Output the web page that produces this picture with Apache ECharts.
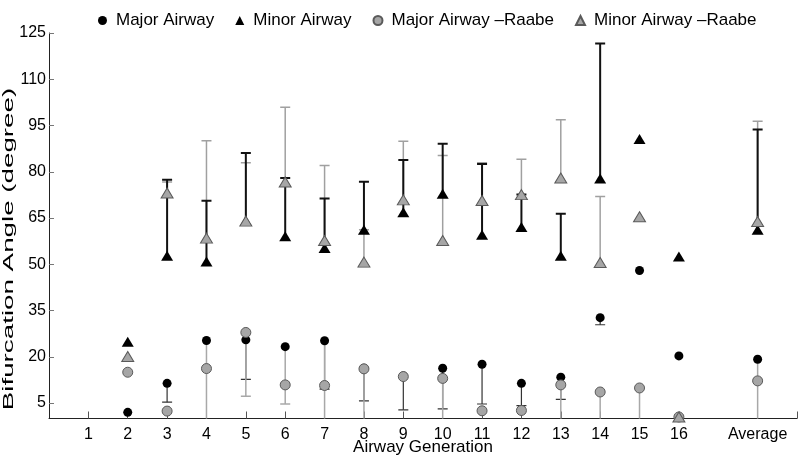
<!DOCTYPE html>
<html><head><meta charset="utf-8">
<script src="https://cdn.jsdelivr.net/npm/echarts@6/dist/echarts.min.js"></script>
<style>html,body{margin:0;padding:0;background:#fff}#c{width:800px;height:457px}</style>
</head><body><div id="c"></div>
<script>
// ---- data ----
const generations = ['1','2','3','4','5','6','7','8','9','10','11','12','13','14','15','16','Average'];
const genPos = [1,2,3,4,5,6,7,8,9,10,11,12,13,14,15,16,18];
const yTicks = [5,20,35,50,65,80,95,110,125];

const majorAirway      = [null, 2.0, 11.4, 25.3, 25.5, 23.3, 25.2, 16.3, 13.8, 16.3, 17.6, 11.4, 13.4, 32.7, 48.0, 20.3, 19.2];
const majorAirwayLow   = [null, null, 5.3, null, 12.7, null, 9.5, 5.7, 2.8, 3.1, 4.7, 4.2, 6.2, 30.4, null, null, null];

const minorAirway      = [null, 24.9, 52.8, 50.9, 64.0, 59.1, 55.3, 61.2, 66.9, 72.9, 59.6, 62.1, 52.8, 77.8, 90.6, 52.5, 61.2];
const minorAirwayHigh  = [null, null, 77.4, 70.6, 86.1, 78.0, 71.3, 76.8, 83.8, 89.1, 82.5, 72.6, 66.4, 121.6, null, null, 93.7];

const majorRaabe       = [null, 15.0, 2.4, 16.2, 27.9, 10.9, 10.7, 16.1, 13.6, 13.0, 2.5, 2.6, 10.9, 8.6, 9.9, 0.5, 12.2];
const majorRaabeLow    = [null, null, null, -2, 7.2, 4.7, -2, -2, null, -2, null, null, -2, -2, -2, null, -2];
const majorRaabeHigh   = [null, null, null, 25.3, null, 23.3, 25.2, null, null, null, null, null, null, null, null, null, 19.2];

const minorRaabe       = [null, 20.1, 73.1, 58.5, 64.0, 76.7, 57.7, 50.7, 70.9, 57.7, 70.7, 72.6, 78.0, 50.6, 65.4, 0.5, 63.9];
const minorRaabeHigh   = [null, null, 76.7, 90.1, 82.9, 100.9, 82.0, 61.2, 89.9, 85.3, 82.9, 84.1, 96.9, 72.0, null, null, 96.4];

const seriesNames = ['Major Airway', 'Minor Airway', 'Major Airway \u2013Raabe', 'Minor Airway \u2013Raabe'];

// ---- helpers ----
function points(vals) {
  const out = [];
  vals.forEach((v, i) => { if (v !== null) out.push([genPos[i], v]); });
  return out;
}
function bars(vals, ends) {
  const out = [];
  vals.forEach((v, i) => { if (v !== null && ends[i] !== null) out.push([genPos[i], v, ends[i]]); });
  return out;
}
function errSeries(data, color, width, cap, z) {
  return {
    type: 'custom', data: data, clip: true, z: z, silent: true,
    renderItem: function (params, api) {
      const x = api.value(0), a = api.value(1), b = api.value(2);
      const p0 = api.coord([x, a]), p1 = api.coord([x, b]);
      const ch = [{ type: 'line', shape: { x1: p0[0], y1: p0[1], x2: p1[0], y2: p1[1] }, style: { stroke: color, lineWidth: width } }];
      if (cap) ch.push({ type: 'line', shape: { x1: p1[0] - cap, y1: p1[1], x2: p1[0] + cap, y2: p1[1] }, style: { stroke: color, lineWidth: width } });
      return { type: 'group', children: ch };
    }
  };
}
const grayFill = '#a6a6a6', grayEdge = '#5a5a5a';

const chart = echarts.init(document.getElementById('c'), null, { renderer: 'canvas' });
chart.setOption({
  animation: false,
  backgroundColor: '#fff',
  textStyle: { fontFamily: 'Liberation Sans' },
  grid: { left: 49, right: 3, top: 33, bottom: 38.5, outerBoundsMode: 'none', containLabel: false },
  legend: {
    data: seriesNames,
    left: 93, top: 7,
    itemWidth: 9, itemHeight: 9, itemGap: 21,
    textStyle: { fontSize: 17, color: '#000', fontFamily: 'Liberation Sans', padding: [0, 0, 0, 4] }
  },
  xAxis: {
    type: 'value', min: 0, max: 19,
    name: 'Airway Generation', nameLocation: 'middle', nameGap: 20, nameMoveOverlap: false,
    nameTextStyle: { fontSize: 17, color: '#000' },
    axisLine: { show: true, lineStyle: { color: '#222', width: 1 } },
    axisTick: { show: true, inside: true, length: 7, lineStyle: { color: '#555' }, customValues: genPos.concat([19]) },
    axisLabel: { fontSize: 16, color: '#000', margin: 8, customValues: genPos,
      formatter: function (v) { const i = genPos.indexOf(v); return i >= 0 ? generations[i] : ''; } },
    splitLine: { show: false }
  },
  yAxis: {
    type: 'value', min: 0, max: 125,
    axisLine: { show: true, lineStyle: { color: '#222', width: 1 } },
    axisTick: { show: true, inside: true, length: 5, lineStyle: { color: '#777' }, customValues: yTicks },
    axisLabel: { fontSize: 16, color: '#000', margin: 3, customValues: yTicks },
    splitLine: { show: false }
  },
  graphic: [{
    type: 'text', x: 9, y: 249, rotation: Math.PI / 2, scaleX: 1.85, z: 10,
    style: { text: 'Bifurcation Angle (degree)', font: '15px "Liberation Sans"', fill: '#000', textAlign: 'center', textVerticalAlign: 'middle' }
  }],
  series: [
    errSeries(bars(majorAirway, majorAirwayLow), '#333', 1.2, 5, 1),
    errSeries(bars(majorRaabe, majorRaabeLow), '#a8a8a8', 1.5, 5, 2),
    errSeries(bars(majorRaabe, majorRaabeHigh), '#a8a8a8', 1.5, 0, 2),
    errSeries(bars(minorRaabe, minorRaabeHigh), '#a0a0a0', 1.5, 5, 2),
    errSeries(bars(minorAirway, minorAirwayHigh), '#111', 2, 5, 3),
    { name: seriesNames[0], type: 'scatter', data: points(majorAirway), symbol: 'circle', symbolSize: 9, z: 5,
      itemStyle: { color: '#000', opacity: 1 } },
    { name: seriesNames[1], type: 'scatter', data: points(minorAirway), symbol: 'triangle', symbolSize: [12, 10], z: 5,
      itemStyle: { color: '#000', opacity: 1 } },
    { name: seriesNames[2], type: 'scatter', data: points(majorRaabe), symbol: 'circle', symbolSize: 10, z: 6,
      itemStyle: { color: grayFill, borderColor: grayEdge, borderWidth: 1, opacity: 1 } },
    { name: seriesNames[3], type: 'scatter', data: points(minorRaabe), symbol: 'triangle', symbolSize: [12, 10], z: 6,
      itemStyle: { color: grayFill, borderColor: grayEdge, borderWidth: 1, opacity: 1 } }
  ]
});
</script></body></html>
